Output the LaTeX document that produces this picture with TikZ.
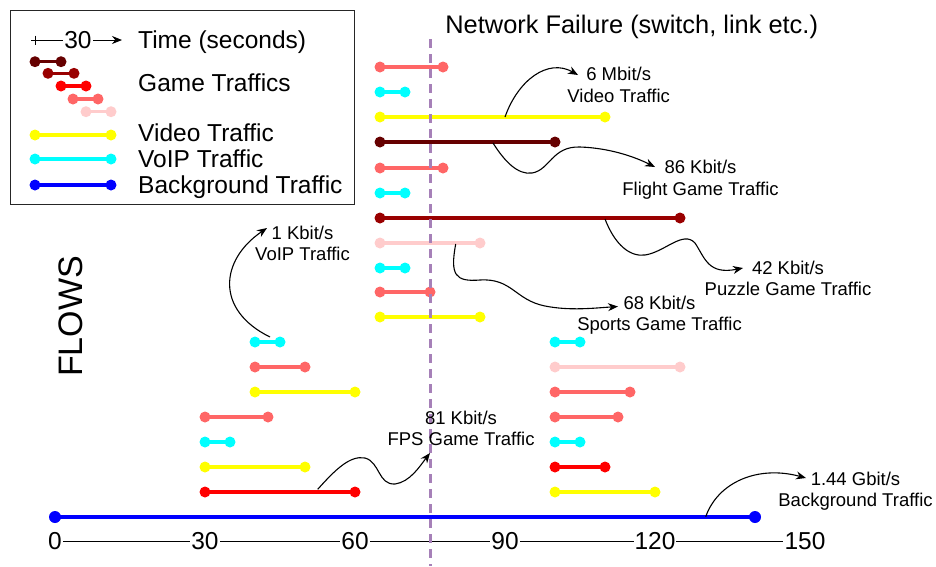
\documentclass[tikz,border=0pt]{standalone}
\usepackage{fontspec}
\setmainfont{Liberation Sans}
\usetikzlibrary{arrows.meta}
\definecolor{gA}{HTML}{660000}
\definecolor{gB}{HTML}{990000}
\definecolor{gC}{HTML}{FF0000}
\definecolor{gD}{HTML}{FF6666}
\definecolor{gE}{HTML}{FFCCCC}
\definecolor{vid}{HTML}{FFFF00}
\definecolor{voip}{HTML}{00FFFF}
\definecolor{bg}{HTML}{0000FF}
\definecolor{fail}{HTML}{A680B8}
\newcommand\flowseg[4]{%
  \draw[line width=3.5pt,#1] (#2,#4) -- (#3,#4);
  \fill[#1] (#2,#4) circle (5.5pt) (#3,#4) circle (5.5pt);}
\begin{document}
\begin{tikzpicture}[x=1pt,y=-1pt,
  lbl/.style={font=\fontsize{18.5}{21.5}\selectfont, align=center, inner sep=0pt},
  big/.style={font=\fontsize{24.5}{28}\selectfont, inner sep=0pt},
  axl/.style={big, fill=white, inner xsep=1pt},
  conn/.style={line width=1.1pt, -{Stealth[length=10pt,width=8pt]}}]
\useasboundingbox (0,0) rectangle (936,566);

% legend
\draw[line width=1pt, black!85] (10.5,10) rectangle (354.5,204.5);
\coordinate (ta) at (31,40);
\coordinate (tb) at (122,40);
\draw[line width=1pt, -{Stealth[length=10pt,width=8pt]}] (ta) -- (tb);
\draw[line width=1pt] (35,35.5) -- (35,44.5);
\node[big, fill=white, inner xsep=1pt] (t30) at (78,40) {30};
\node[big, anchor=base west] (ltime) at (138,48.5) {Time (seconds)};
\flowseg{gA}{35}{61}{61.7}
\flowseg{gB}{48}{74}{73.3}
\flowseg{gC}{61}{86}{86}
\flowseg{gD}{73}{98}{99}
\flowseg{gE}{86}{111}{111.7}
\node[big, anchor=base west] (lgame) at (138,91.5) {Game Traffics};
\flowseg{vid}{35}{111}{135}
\node[big, anchor=base west] (lvid) at (138,141.5) {Video Traffic};
\flowseg{voip}{35}{111}{159}
\node[big, anchor=base west] (lvoip) at (138,167.5) {VoIP Traffic};
\draw[line width=3.5pt,bg] (35,185) -- (111,185);
\fill[bg] (35,185) circle (5.5pt) (111,185) circle (5.5pt);
\node[big, anchor=base west] (lbg) at (138,193.5) {Background Traffic};

% title and axis label
\node[font=\fontsize{25.4}{28}\selectfont, inner sep=0pt, anchor=base] (title) at (631.7,33) {Network Failure (switch, link etc.)};
\node[rotate=90, font=\fontsize{34}{36}\selectfont, inner sep=0pt] (flows) at (71,316.5) {FLOWS};

% time axis
\node[axl] (a0) at (55,541) {0};
\node[axl] (a150) at (805,541) {150};
\draw[line width=0.9pt] (a0.east) -- (a150.west);
\node[axl] (a30) at (205,541) {30};
\node[axl] (a60) at (355,541) {60};
\node[axl] (a90) at (505,541) {90};
\node[axl] (a120) at (655,541) {120};

% top flows
\flowseg{gD}{380}{443}{67}
\flowseg{voip}{380}{405}{92}
\flowseg{vid}{380}{605}{117}
\flowseg{gA}{380}{555}{142}
\flowseg{gD}{380}{443}{168}
\flowseg{voip}{380}{405}{193}
\flowseg{gB}{380}{680}{218}
\flowseg{gE}{380}{480}{243}
\flowseg{voip}{380}{405}{268}
\flowseg{gD}{380}{430}{292}
\flowseg{vid}{380}{480}{317}
% left flows
\flowseg{voip}{255}{280}{342}
\flowseg{gD}{255}{305}{367}
\flowseg{vid}{255}{355}{392}
\flowseg{gD}{205}{268}{417}
\flowseg{voip}{205}{230}{442}
\flowseg{vid}{205}{305}{467}
\flowseg{gC}{205}{355}{492}
% right flows
\flowseg{voip}{555}{580}{342}
\flowseg{gE}{555}{680}{367}
\flowseg{gD}{555}{630}{392}
\flowseg{gD}{555}{618}{417}
\flowseg{voip}{555}{580}{442}
\flowseg{gC}{555}{605}{467}
\flowseg{vid}{555}{655}{492}
% background
\draw[line width=4pt,bg] (55,517) -- (755,517);
\fill[bg] (55,517) circle (6pt) (755,517) circle (6pt);

% failure line
\coordinate (ftop) at (430,39);
\coordinate (fbot) at (430,566);
\draw[fail, line width=3pt, dash pattern=on 9pt off 6pt] (ftop) -- (fbot);

% labels
\node[lbl] (Lvid) at (618.7,84.7) {6 Mbit/s\\Video Traffic};
\node[lbl] (Lfl) at (700.5,179.8) {86 Kbit/s\\Flight Game Traffic};
\node[lbl] (Lpz) at (788,278.2) {42 Kbit/s\\Puzzle Game Traffic};
\node[lbl] (Lsp) at (659.5,315) {68 Kbit/s\\Sports Game Traffic};
\node[lbl] (Lvo) at (302.5,243.2) {1 Kbit/s\\VoIP Traffic};
\node[lbl] (Lfps) at (461,428.5) {81 Kbit/s\\FPS Game Traffic};
\node[lbl] (Lbg) at (855.5,491.3) {1.44 Gbit/s\\Background Traffic};

% connectors
\coordinate (s1) at (505,117);  \coordinate (e1) at (578,75);
\draw[conn] (s1) .. controls (518,80) and (548,58) .. (e1);
\coordinate (s2) at (493,143);  \coordinate (e2) at (655,167);
\draw[conn] (s2) .. controls (505,162) and (518,175) .. (532,173)
  .. controls (550,170) and (552,146) .. (580,147)
  .. controls (610,148) and (635,157) .. (e2);
\coordinate (s3) at (605,219);  \coordinate (e3) at (743,268);
\draw[conn] (s3) .. controls (615,245) and (630,257) .. (645,255)
  .. controls (665,252) and (683,230) .. (695,243)
  .. controls (705,258) and (708,275) .. (e3);
\coordinate (s4) at (455.7,244);  \coordinate (e4) at (618,306.5);
\draw[conn] (s4) .. controls (450,275) and (455,282) .. (480,280)
  .. controls (512,278) and (515,300) .. (545,306)
  .. controls (570,311) and (595,308) .. (e4);
\coordinate (s5) at (270,337);  \coordinate (e5) at (267,228);
\draw[conn] (s5) .. controls (215,310) and (220,260) .. (e5);
\coordinate (s6) at (317.7,489.3);  \coordinate (e6) at (430,453);
\draw[conn] (s6) .. controls (335,470) and (350,455) .. (365,458)
  .. controls (380,462) and (378,485) .. (395,484)
  .. controls (410,482) and (420,466) .. (e6);
\coordinate (s7) at (705.7,516.7);  \coordinate (e7) at (806,478);
\draw[conn] (s7) .. controls (718,482) and (758,465) .. (e7);
\end{tikzpicture}
\end{document}
